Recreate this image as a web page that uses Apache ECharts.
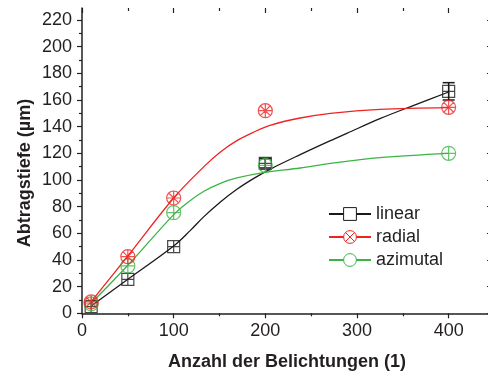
<!DOCTYPE html>
<html>
<head>
<meta charset="utf-8">
<script src="https://cdn.jsdelivr.net/npm/echarts@6/dist/echarts.min.js"></script>
<style>
  html, body { margin: 0; padding: 0; background: #fff; }
  #main { width: 488px; height: 376px; }
</style>
</head>
<body>
<div id="main"></div>
<script>
// measured points (Anzahl der Belichtungen -> Abtragstiefe)
var sampleX = [10, 50, 100, 200, 400];
var linearY = [5, 25.5, 50, 112.5, 166.5];
var linearErr = [0, 0, 0, 3.5, 6.5];
var radialY = [8.5, 42.5, 86.5, 152, 154.5];
var azimutalY = [7, 35.5, 75.5, 111, 120];

// fit curves
var linearFitX = [10, 50, 100, 118, 133, 151, 169, 187, 205, 238, 271, 289, 325, 362, 400];
var linearFitY = [5.5, 25.5, 50.5, 62, 72.5, 83.5, 93, 101, 108, 119, 129.5, 135, 146, 156, 166];
var radialFitX = [10, 50, 100, 133, 151, 169, 187, 205, 238, 271, 325, 400];
var radialFitY = [8.7, 43, 86.5, 110, 121, 129.5, 135.8, 141, 146.5, 150, 153, 154.3];
var azimutalFitX = [10, 50, 100, 115, 133, 151, 169, 198, 238, 271, 325, 400];
var azimutalFitY = [7.5, 36, 74, 83, 91.5, 97.5, 101.5, 105.5, 109, 112.5, 116.8, 120];

// axis ticks
var xMajor = [0, 100, 200, 300, 400];
var xMinor = [50, 150, 250, 350];
var yMajor = [0, 20, 40, 60, 80, 100, 120, 140, 160, 180, 200, 220];
var yMinor = [10, 30, 50, 70, 90, 110, 130, 150, 170, 190, 210];

var names = ['linear', 'radial', 'azimutal'];

var X_MAX = 447.3;
var Y_MAX = 229;
var ink = '#231f20';
var font = '"Liberation Sans", Arial, sans-serif';
var cBlack = '#1a1a1a', cRed = '#ee2424', cGreen = '#3cb444';

var squarePlus = 'path://M0,0L20,0L20,20L0,20Z M10,0L10,20 M0,10L20,10';
var circleX = 'path://M20,10A10,10 0 1 1 0,10A10,10 0 1 1 20,10Z M2.93,2.93L17.07,17.07 M17.07,2.93L2.93,17.07';
var circleXPlus = circleX + ' M10,0L10,20 M0,10L20,10';
var circlePlus = 'path://M20,10A10,10 0 1 1 0,10A10,10 0 1 1 20,10Z M10,0L10,20 M0,10L20,10';

function pairs(xs, ys) {
  return xs.map(function (x, i) { return [x, ys[i]]; });
}

// helper: an axis that only draws a set of ticks
function tickAxis(pos, min, max, values, len, inside) {
  return {
    type: 'value', position: pos, min: min, max: max,
    axisLine: { show: false, onZero: false },
    axisLabel: { show: false },
    splitLine: { show: false },
    axisTick: {
      show: true, inside: inside, length: len, customValues: values,
      lineStyle: { color: ink, width: 1.2 }
    }
  };
}

var chartDom = document.getElementById('main');
var myChart = echarts.init(chartDom, null, { renderer: 'canvas' });
var option;

var xMain = tickAxis('bottom', 0, X_MAX, xMajor, 5, false);
xMain.axisLine = { show: true, onZero: false, lineStyle: { color: ink, width: 1.5 } };
xMain.axisLabel = {
  show: true, customValues: xMajor, margin: 9,
  fontSize: 18, fontFamily: font, color: ink
};
xMain.name = 'Anzahl der Belichtungen (1)';
xMain.nameLocation = 'middle';
xMain.nameGap = 40;
xMain.nameTextStyle = { fontSize: 18, fontWeight: 'bold', fontFamily: font, color: ink };

var yMain = tickAxis('left', 0, Y_MAX, yMajor, 5, false);
yMain.axisLine = { show: true, onZero: false, lineStyle: { color: ink, width: 1.5 } };
yMain.axisLabel = {
  show: true, customValues: yMajor, margin: 10,
  fontSize: 18, fontFamily: font, color: ink
};

var yRight = tickAxis('right', 0, Y_MAX, yMajor, 5, true);
yRight.axisLine = { show: true, onZero: false, lineStyle: { color: ink, width: 1.5 } };

// error bars of the linear points
function errorBars(api) {
  var x = api.value(0), y = api.value(1), e = api.value(2);
  if (!e) return null;
  var top = api.coord([x, y + e]);
  var bot = api.coord([x, y - e]);
  var w = 6;
  var st = { stroke: cBlack, lineWidth: 1.5 };
  return {
    type: 'group',
    children: [
      { type: 'line', shape: { x1: top[0], y1: top[1], x2: bot[0], y2: bot[1] }, style: st },
      { type: 'line', shape: { x1: top[0] - w, y1: top[1], x2: top[0] + w, y2: top[1] }, style: st },
      { type: 'line', shape: { x1: bot[0] - w, y1: bot[1], x2: bot[0] + w, y2: bot[1] }, style: st }
    ]
  };
}

option = {
  animation: false,
  backgroundColor: '#fff',
  grid: { left: 82, top: 8, width: 410, height: 305.3, outerBoundsMode: 'none' },
  xAxis: [
    xMain,
    tickAxis('bottom', 0, X_MAX, xMinor, 3, false),
    tickAxis('top', 0, X_MAX, xMajor, 5, true),
    tickAxis('top', 0, X_MAX, xMinor, 3, true)
  ],
  yAxis: [
    yMain,
    tickAxis('left', 0, Y_MAX, yMinor, 3, false),
    yRight,
    tickAxis('right', 0, Y_MAX, yMinor, 3, true)
  ],
  legend: {
    data: names,
    orient: 'vertical',
    left: 328,
    top: 205,
    padding: 0,
    itemWidth: 42,
    itemHeight: 16,
    itemGap: 5,
    itemStyle: { borderWidth: 1 },
    textStyle: { fontSize: 18, fontFamily: font, color: ink }
  },
  graphic: [
    {
      type: 'text', x: 25, y: 173, rotation: Math.PI / 2,
      style: {
        text: 'Abtragstiefe (µm)', font: 'bold 18px ' + font,
        fill: ink, align: 'center', verticalAlign: 'middle'
      }
    }
  ],
  series: [
    {
      name: 'linear', type: 'line', data: pairs(linearFitX, linearFitY),
      smooth: 0.35, showSymbol: false, symbol: 'rect', symbolSize: 13,
      lineStyle: { color: cBlack, width: 1.3 },
      itemStyle: { color: '#fff', borderColor: cBlack, borderWidth: 1 },
      emphasis: { disabled: true }, z: 2
    },
    {
      name: 'radial', type: 'line', data: pairs(radialFitX, radialFitY),
      smooth: 0.35, showSymbol: false, symbol: circleX, symbolSize: 13,
      lineStyle: { color: cRed, width: 1.3 },
      itemStyle: { color: '#fff', borderColor: cRed, borderWidth: 1 },
      emphasis: { disabled: true }, z: 2
    },
    {
      name: 'azimutal', type: 'line', data: pairs(azimutalFitX, azimutalFitY),
      smooth: 0.35, showSymbol: false, symbol: 'circle', symbolSize: 13,
      lineStyle: { color: cGreen, width: 1.3 },
      itemStyle: { color: '#fff', borderColor: cGreen, borderWidth: 1 },
      emphasis: { disabled: true }, z: 2
    },
    {
      name: 'linear-err', type: 'custom',
      data: sampleX.map(function (x, i) { return [x, linearY[i], linearErr[i]]; }),
      renderItem: function (params, api) { return errorBars(api); },
      z: 3, silent: true
    },
    {
      name: 'linear-pts', type: 'scatter', data: pairs(sampleX, linearY),
      symbol: squarePlus, symbolSize: 12,
      itemStyle: { color: 'rgba(0,0,0,0)', borderColor: cBlack, borderWidth: 1.2 },
      emphasis: { disabled: true }, z: 3
    },
    {
      name: 'azimutal-pts', type: 'scatter', data: pairs(sampleX, azimutalY),
      symbol: circlePlus, symbolSize: 14,
      itemStyle: { color: 'rgba(0,0,0,0)', borderColor: cGreen, borderWidth: 1.2 },
      emphasis: { disabled: true }, z: 3
    },
    {
      name: 'radial-pts', type: 'scatter', data: pairs(sampleX, radialY),
      symbol: circleXPlus, symbolSize: 14,
      itemStyle: { color: 'rgba(0,0,0,0)', borderColor: cRed, borderWidth: 1.2 },
      emphasis: { disabled: true }, z: 3
    }
  ]
};

option && myChart.setOption(option);
</script>
</body>
</html>
